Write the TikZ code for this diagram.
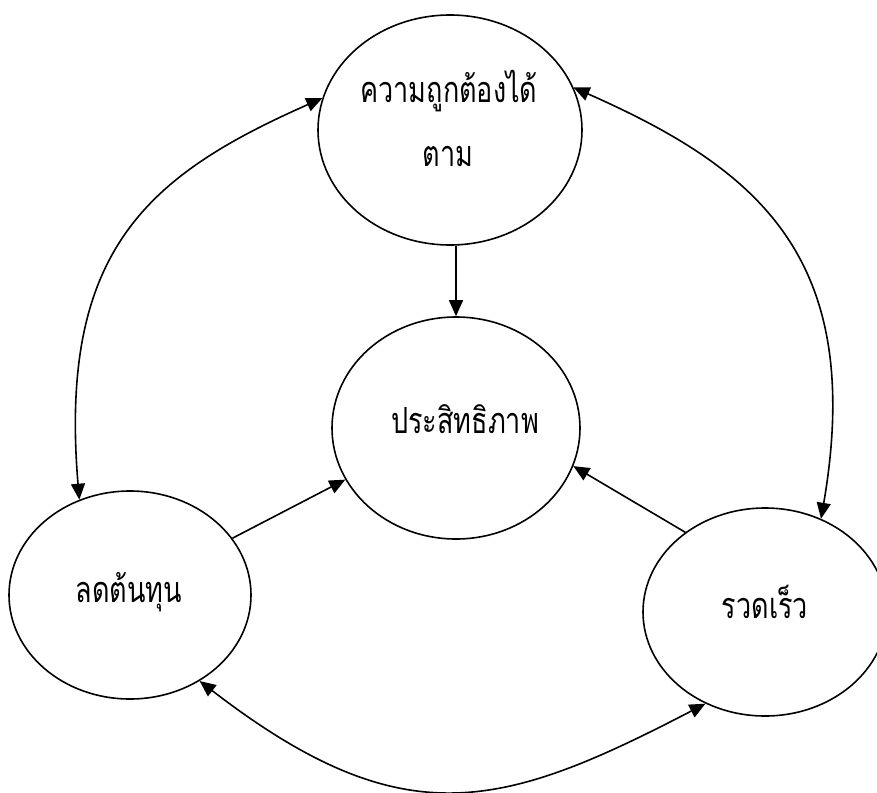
\documentclass[tikz,border=0pt]{standalone}
\usepackage{fontspec}
\newfontfamily\thaifont[Script=Thai,FakeStretch=0.75]{Loma}
\usetikzlibrary{shapes.geometric,arrows.meta}
\begin{document}
\begin{tikzpicture}[x=1pt,y=-1pt,
  bubble/.style={ellipse,draw,line width=1.6pt,inner sep=0pt},
  words/.style={anchor=base,inner sep=0pt,font=\thaifont\fontsize{36}{40}\selectfont},
  tip/.tip={Triangle[length=16pt,width=14pt]},
  link/.style={line width=1.6pt,-tip},
  dlink/.style={line width=1.6pt,tip-tip}]
\fill[white] (0,0) rectangle (877,792);
\useasboundingbox (0,0) rectangle (877,792);
\node[bubble,minimum width=264pt,minimum height=230pt] (A) at (450,130) {};
\node[bubble,minimum width=248pt,minimum height=222pt] (B) at (456,428) {};
\node[bubble,minimum width=242pt,minimum height=208pt] (C) at (130,595) {};
\node[bubble,minimum width=244pt,minimum height=208pt] (D) at (765,612) {};
\node[words] (A1) at (449,102) {ความถูกต้องได้};
\node[words] (A2) at (448,166) {ตาม};
\node[words] (Bt) at (465,433) {ประสิทธิภาพ};
\node[words] (Ct) at (129,602) {ลดต้นทุน};
\node[words] (Dt) at (765,618) {รวดเร็ว};
\draw[link] (B.north |- A.south) -- (B.north);
\draw[link] (C.29) -- (B.205);
\draw[link] (D.135) -- (B.-18);
\draw[dlink] (A.166) .. controls +(-174,77) and +(-21,-250) .. (C.118);
\draw[dlink] (A.19) .. controls +(183,81) and +(45,-262) .. (D.59);
\draw[dlink] (C.-51) .. controls +(204,157) and +(-204,106) .. (D.237);
\end{tikzpicture}
\end{document}
